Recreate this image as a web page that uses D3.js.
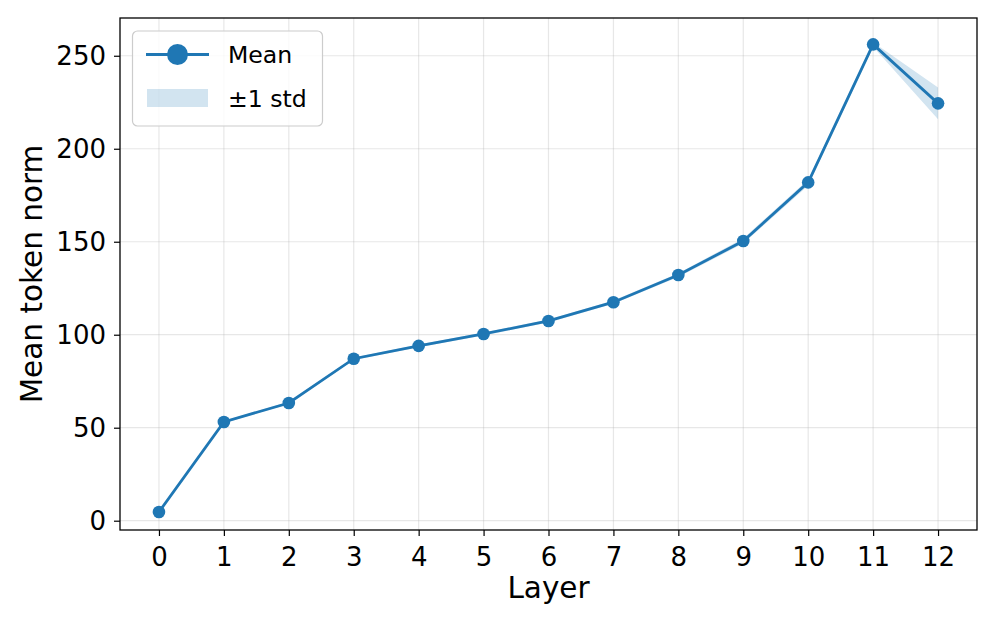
<!DOCTYPE html>
<html><head><meta charset="utf-8">
<script src="https://cdn.jsdelivr.net/npm/d3@7"></script>
<style>body{margin:0;background:#fff;} text{font-family:"DejaVu Sans",sans-serif;}</style>
</head><body>
<svg id="chart" width="997" height="623"></svg>
<script>
const layers = [0,1,2,3,4,5,6,7,8,9,10,11,12];
const meanNorm = [4.7,53.1,63.3,87.1,94.0,100.4,107.4,117.5,132.1,150.4,181.9,256.1,224.4];
const stdNorm = [0.4,0.6,0.6,0.7,0.7,0.8,0.8,0.9,1.0,1.4,1.6,1.2,8.5];
const xTicks = [0,1,2,3,4,5,6,7,8,9,10,11,12];
const yTicks = [0,50,100,150,200,250];

const svg = d3.select("#chart");
const L=120, R=977, T=18, B=530;
const x = d3.scaleLinear().domain([-0.6,12.6]).range([L,R]);
const y = d3.scaleLinear().domain([-5,270.3]).range([B,T]);
const blue = "#1f77b4";

// grid
const g = svg.append("g");
g.selectAll(".gx").data(xTicks).enter().append("line")
  .attr("x1",d=>x(d)).attr("x2",d=>x(d)).attr("y1",T).attr("y2",B)
  .attr("stroke","#b0b0b0").attr("stroke-opacity",0.3).attr("stroke-width",1.2);
g.selectAll(".gy").data(yTicks).enter().append("line")
  .attr("y1",d=>y(d)).attr("y2",d=>y(d)).attr("x1",L).attr("x2",R)
  .attr("stroke","#b0b0b0").attr("stroke-opacity",0.3).attr("stroke-width",1.2);

const data = layers.map((l,i)=>({l, m:meanNorm[i], s:stdNorm[i]}));
// band
svg.append("path").datum(data)
  .attr("d", d3.area().x(d=>x(d.l)).y0(d=>y(d.m-d.s)).y1(d=>y(d.m+d.s)))
  .attr("fill", blue).attr("fill-opacity",0.2);
// line
svg.append("path").datum(data)
  .attr("d", d3.line().x(d=>x(d.l)).y(d=>y(d.m)))
  .attr("fill","none").attr("stroke",blue).attr("stroke-width",2.8);
svg.selectAll(".pt").data(data).enter().append("circle")
  .attr("cx",d=>x(d.l)).attr("cy",d=>y(d.m)).attr("r",6.3).attr("fill",blue);

// axes
const xAxis = svg.append("g").attr("transform",`translate(0,${B})`)
  .call(d3.axisBottom(x).tickValues(xTicks).tickSize(6).tickPadding(6).tickFormat(d3.format("d")));
const yAxis = svg.append("g").attr("transform",`translate(${L},0)`)
  .call(d3.axisLeft(y).tickValues(yTicks).tickSize(6).tickPadding(8).tickFormat(d3.format("d")));
[xAxis,yAxis].forEach(a=>{
  a.select(".domain").remove();
  a.selectAll(".tick line").attr("stroke","#000").attr("stroke-width",1.2);
  a.selectAll(".tick text").attr("font-size",26).attr("fill","#000").attr("font-family","DejaVu Sans");
});
xAxis.selectAll(".tick text").attr("dy","0.93em");
yAxis.selectAll(".tick text").attr("dy","0.35em");

// frame
svg.append("rect").attr("x",L).attr("y",T).attr("width",R-L).attr("height",B-T)
  .attr("fill","none").attr("stroke","#000").attr("stroke-width",1.3);

// labels
svg.append("text").attr("x",(L+R)/2).attr("y",598).attr("text-anchor","middle")
  .attr("font-size",29.5).text("Layer");
svg.append("text").attr("transform",`translate(42,${(T+B)/2}) rotate(-90)`)
  .attr("text-anchor","middle").attr("font-size",29.5).text("Mean token norm");

// legend
const lg = svg.append("g");
lg.append("rect").attr("x",132.5).attr("y",31).attr("width",190).attr("height",95).attr("rx",5)
  .attr("fill","#fff").attr("fill-opacity",0.8).attr("stroke","#cccccc").attr("stroke-width",1.2);
lg.append("line").attr("x1",146).attr("x2",209).attr("y1",54.5).attr("y2",54.5)
  .attr("stroke",blue).attr("stroke-width",2.8);
lg.append("circle").attr("cx",177.5).attr("cy",54.5).attr("r",10.5).attr("fill",blue);
lg.append("text").attr("x",228).attr("y",63).attr("font-size",23.6).text("Mean");
lg.append("rect").attr("x",147).attr("y",89).attr("width",61).attr("height",18)
  .attr("fill",blue).attr("fill-opacity",0.2);
lg.append("text").attr("x",228).attr("y",106.5).attr("font-size",23.6).text("±1 std");
</script>
</body></html>
